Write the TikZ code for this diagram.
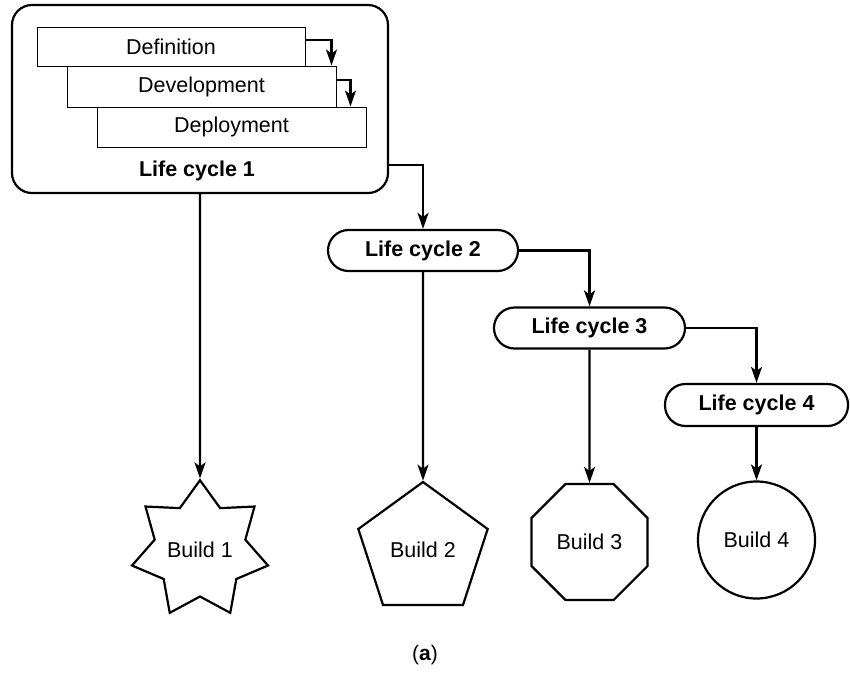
\documentclass[tikz,border=0pt]{standalone}
\usepackage{fontspec}
\setmainfont{Liberation Sans}
\usetikzlibrary{shapes.geometric,arrows.meta,calc}

\tikzset{
  txt/.style={font=\fontsize{21.5}{25}\selectfont},
  boldtxt/.style={font=\fontsize{21.5}{25}\selectfont\bfseries},
  phase/.style={draw, line width=1pt, txt, minimum width=269pt, minimum height=40pt, inner sep=0pt},
  cyclebox/.style={draw, line width=2.2pt, rounded corners=20pt, inner sep=0pt},
  pill/.style={draw, line width=2.2pt, boldtxt, rounded corners=20.5pt, minimum height=41pt, inner sep=0pt},
  buildshape/.style={draw, line width=2.2pt, txt, inner sep=0pt},
  arr/.style={line width=2.2pt, -{Stealth[length=16pt,width=11pt,inset=4pt]}},
}

\begin{document}
\begin{tikzpicture}[x=1pt,y=-1pt]
\useasboundingbox (0,0) rectangle (850,681);

% outer life cycle with its three phases
\node[cyclebox, minimum width=376pt, minimum height=188pt] (lc1) at (200,99) {};
\node[boldtxt] (lc1label) at (197,171) {Life cycle 1};
\node[phase, minimum width=268pt, minimum height=39pt] (def) at (171,46.5) {Definition};
\node[phase, minimum height=41pt] (dev) at (201.5,86.5) {Development};
\node[phase] (dep) at (231.5,127) {Deployment};

\draw[arr] ($(def.north east)!0.33!(def.south east)$) -| ([xshift=-5pt]dev.north east);
\draw[arr] ($(dev.north east)!0.34!(dev.south east)$) -| ([xshift=-16pt]dep.north east);

% later life cycles
\node[pill, minimum width=190pt] (lc2) at (423,250.5) {Life cycle 2};
\node[pill, minimum width=191pt] (lc3) at (589.5,328) {Life cycle 3};
\node[pill, minimum width=183pt, minimum height=42pt] (lc4) at (756.5,405) {Life cycle 4};

\draw[arr] ($(lc1.north east)!0.846!(lc1.south east)$) -| (lc2.north);
\draw[arr] (lc2.east) -| (lc3.north);
\draw[arr] (lc3.east) -| (lc4.north);

% builds
\node[buildshape, star, star points=7, star point ratio=1.5, minimum size=132pt] (b1) at (200,550) {Build 1};
\node[buildshape, regular polygon, regular polygon sides=5, minimum size=136pt] (b2) at (423,550) {Build 2};
\node[buildshape, regular polygon, regular polygon sides=8, minimum size=125.6pt] (b3) at (589.5,542) {Build 3};
\node[buildshape, circle, minimum size=117pt] (b4) at (756.5,540) {Build 4};

\draw[arr] (lc1.south) -- (b1.north);
\draw[arr] (lc2.south) -- (b2.north);
\draw[arr] (lc3.south) -- (b3.north);
\draw[arr] (lc4.south) -- (b4.north);

\node[txt, font=\fontsize{21}{25}\selectfont] (caption) at (425,655) {(\textbf{a})};
\end{tikzpicture}
\end{document}
